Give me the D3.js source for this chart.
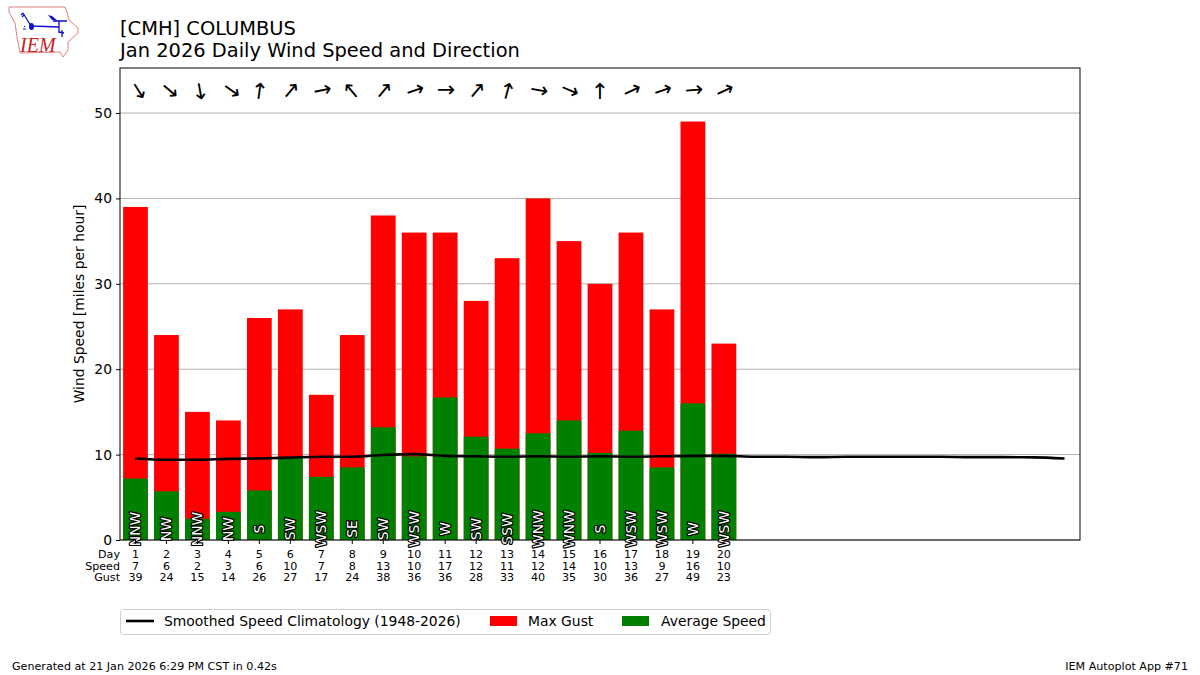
<!DOCTYPE html>
<html><head><meta charset="utf-8">
<script src="https://d3js.org/d3.v7.min.js"></script>
<style>html,body{margin:0;padding:0;background:#fff}svg{display:block}text{font-family:"DejaVu Sans",sans-serif;fill:#000}</style>
</head><body><svg id="c" width="1200" height="675"></svg>
<script>
const days=[1,2,3,4,5,6,7,8,9,10,11,12,13,14,15,16,17,18,19,20];
const avgSpeed=[7.2,5.7,2.5,3.3,5.8,9.6,7.4,8.5,13.2,9.8,16.7,12.1,10.7,12.5,14.0,10.2,12.8,8.5,16.0,10.1];
const maxGust=[39,24,15,14,26,27,17,24,38,36,36,28,33,40,35,30,36,27,49,23];
const speedLabels=[7,6,2,3,6,10,7,8,13,10,17,12,11,12,14,10,13,9,16,10];
const dirNames=["NNW","NW","NNW","NW","S","SW","WSW","SE","SW","WSW","W","SW","SSW","WNW","WNW","S","WSW","WSW","W","WSW"];
const arrowAngles=[148,130,170,125,8,40,78,320,40,72,90,40,15,100,113,0,65,72,85,65];
const climoDays=[1,2,3,4,5,6,7,8,9,10,11,12,13,14,15,16,17,18,19,20,21,22,23,24,25,26,27,28,29,30,31];
const climo=[9.55,9.4,9.4,9.5,9.55,9.65,9.75,9.75,9.95,10.05,9.85,9.8,9.75,9.8,9.75,9.8,9.75,9.8,9.85,9.85,9.75,9.75,9.7,9.75,9.75,9.75,9.75,9.7,9.7,9.68,9.55];
const yTicks=[0,10,20,30,40,50];

const L=120,R=1080,T=68,B=540;
const svg=d3.select("#c");
const x=d3.scaleLinear().domain([0.5,31.5]).range([L,R]);
const y=d3.scaleLinear().domain([0,55.27]).range([B,T]);
const bw=x(0.8)-x(0);

svg.append("g").selectAll("line").data(yTicks).join("line")
 .attr("x1",L).attr("x2",R).attr("y1",d=>y(d)).attr("y2",d=>y(d)).attr("stroke","#b0b0b0").attr("stroke-width",1);

svg.append("g").selectAll("rect").data(days).join("rect")
 .attr("x",(d)=>x(d)-bw/2).attr("width",bw).attr("y",(d,i)=>y(maxGust[i])).attr("height",(d,i)=>B-y(maxGust[i])).attr("fill","#ff0000");
svg.append("g").selectAll("rect").data(days).join("rect")
 .attr("x",(d)=>x(d)-bw/2).attr("width",bw).attr("y",(d,i)=>y(avgSpeed[i])).attr("height",(d,i)=>B-y(avgSpeed[i])).attr("fill","#008000");

svg.append("path").datum(climoDays).attr("fill","none").attr("stroke","#000").attr("stroke-width",2.6)
 .attr("d",d3.line().x(d=>x(d)).y((d,i)=>y(climo[i])).curve(d3.curveMonotoneX));

svg.append("rect").attr("x",L).attr("y",T).attr("width",R-L).attr("height",B-T).attr("fill","none").attr("stroke","#000").attr("stroke-width",1);

svg.append("g").selectAll("text").data(days).join("text")
 .attr("transform",d=>`translate(${x(d)},529) rotate(-90)`).attr("dy","0.36em").attr("text-anchor","middle")
 .attr("font-size",13.89).attr("stroke","#000").attr("stroke-width",2.4).attr("stroke-linejoin","round")
 .style("paint-order","stroke").style("fill","#fff").text((d,i)=>dirNames[i]);

// arrows: placement follows the turn of the glyph, as matplotlib's rotated text box does
svg.append("g").selectAll("text").data(days).join("text")
 .attr("transform",(d,i)=>{const a=arrowAngles[i];
   const dx=(a>120&&a<200)?2.5:0, dy=Math.max(0,Math.cos(a*Math.PI/180))*2;
   return `translate(${x(d)+dx},${90+dy}) rotate(${a})`;})
 .attr("text-anchor","middle").attr("dy","0.31em").attr("font-size",22).text("\u2191");

const ya=svg.append("g").attr("transform",`translate(${L},0)`).call(d3.axisLeft(y).tickValues(yTicks).tickSize(4).tickPadding(4).tickFormat(d3.format("d")));
ya.select(".domain").remove();
ya.selectAll("text").attr("font-size",13.89).style("font-family",'"DejaVu Sans"');
ya.selectAll("line").attr("stroke","#000");
svg.append("text").attr("transform",`translate(84,304) rotate(-90)`).attr("text-anchor","middle").attr("font-size",13.89).text("Wind Speed [miles per hour]");

const tg=svg.append("g");
tg.selectAll("line").data(days).join("line").attr("x1",d=>x(d)).attr("x2",d=>x(d)).attr("y1",B).attr("y2",B+4).attr("stroke","#000");
const rows=[["Day",days,558],["Speed",speedLabels,569.5],["Gust",maxGust,581]];
rows.forEach(([n,vals,yy])=>{
 tg.append("text").attr("x",120).attr("y",yy).attr("text-anchor","end").attr("font-size",11.11).text(n);
 tg.append("g").selectAll("text").data(vals).join("text").attr("x",(d,i)=>x(days[i])).attr("y",yy).attr("text-anchor","middle").attr("font-size",11.11).text(d=>d);
});

svg.append("text").attr("x",120).attr("y",35).attr("font-size",19.44).text("[CMH] COLUMBUS");
svg.append("text").attr("x",120).attr("y",57).attr("font-size",19.44).text("Jan 2026 Daily Wind Speed and Direction");

const lg=svg.append("g");
lg.append("rect").attr("x",120.5).attr("y",609.5).attr("width",650).attr("height",25).attr("rx",3).attr("fill","#fff").attr("stroke","#d0d0d0");
lg.append("line").attr("x1",126).attr("x2",154).attr("y1",621).attr("y2",621).attr("stroke","#000").attr("stroke-width",2.6);
lg.append("text").attr("x",164).attr("y",626).attr("font-size",13.89).text("Smoothed Speed Climatology (1948-2026)");
lg.append("rect").attr("x",490).attr("y",616).attr("width",27).attr("height",10).attr("fill","#ff0000");
lg.append("text").attr("x",528).attr("y",626).attr("font-size",13.89).text("Max Gust");
lg.append("rect").attr("x",622).attr("y",616).attr("width",27).attr("height",10).attr("fill","#008000");
lg.append("text").attr("x",661).attr("y",626).attr("font-size",13.89).text("Average Speed");

svg.append("text").attr("x",12).attr("y",670).attr("font-size",11.11).text("Generated at 21 Jan 2026 6:29 PM CST in 0.42s");
svg.append("text").attr("x",1188).attr("y",670).attr("text-anchor","end").attr("font-size",11.11).text("IEM Autoplot App #71");

const logo=svg.append("g");
logo.append("path").attr("fill","#fff").attr("stroke","#e08080").attr("stroke-width",1)
 .attr("d","M9,7 L65,7 L67,12 L69,20 L78,28 L78,33 L68,42 L68,50 L63,57 L60,52 L20,53 L17,37 L15,23 L9,12 Z");
logo.append("text").attr("x",20).attr("y",52).attr("font-size",20).style("font-family",'"Liberation Serif"').style("font-style","italic").style("fill","#cc2222").text("IEM");
logo.append("path").attr("fill","none").attr("stroke","#1010d0").attr("stroke-width",1.3)
 .attr("d","M31,26 L59,27 M31,26 L23,13 M23,13 L21,15 M24,15 L22,17 M53,21 L67,21 M59,21 L59,33 M59,32 L64,33 M62,30 L62,37");
logo.append("ellipse").attr("cx",31.5).attr("cy",26.5).attr("rx",2.5).attr("ry",3.5).attr("fill","#1010d0");
logo.append("path").attr("fill","#1010d0").attr("d","M48,15 L52,16 L58,21 L52,20 Z");
logo.append("path").attr("fill","none").attr("stroke","#1010d0").attr("stroke-width",1).attr("d","M23,29 L26,29 M24,26.5 L25,26.5");
</script></body></html>
